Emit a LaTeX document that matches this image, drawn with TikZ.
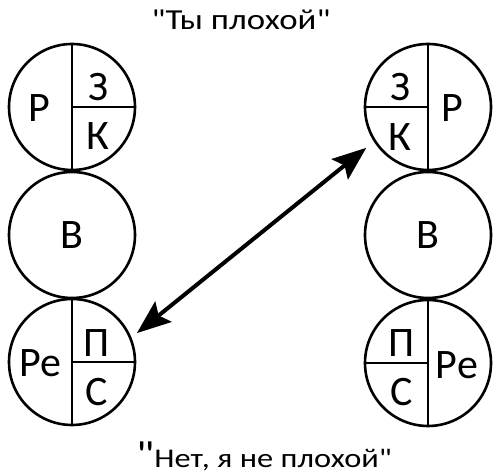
\documentclass[tikz,border=0pt]{standalone}
\usepackage{fontspec}
\setmainfont{Carlito}
\newfontfamily\phrasefont{Carlito}[FakeStretch=1.2]
\usetikzlibrary{arrows.meta,calc}

\begin{document}
\begin{tikzpicture}[x=0.5pt,y=-0.5pt,
ring/.style={circle,draw,line width=1.3pt,inner sep=0pt,minimum size=63pt},
part/.style={line width=1.3pt},
letter/.style={inner sep=0pt,font=\fontsize{21}{25}\selectfont},
phrase/.style={inner sep=0pt,anchor=base,font=\phrasefont\fontsize{14.5}{17}\selectfont},
>={Stealth[length=17pt,width=13pt,inset=3pt]}
]
\useasboundingbox (0,0) rectangle (494,475);
% left person
\node[ring] (lt) at (72,107) {};
\node[ring] (lm) at (72,235) {};
\node[ring] (lb) at (72,362) {};
\draw[part] (lt.north) -- (lt.south) (lt.center) -- (lt.east);
\draw[part] (lb.north) -- (lb.south) (lb.center) -- (lb.east);
\node[letter] (lr) at (39,108) {Р};
\node[letter] (lz) at (98,87) {З};
\node[letter] (lk) at (98,136) {К};
\node[letter] (lv) at (72,235) {В};
\node[letter] (lre) at (40,363) {Ре};
\node[letter] (lp) at (97,343) {П};
\node[letter] (ls) at (97,392) {С};
% right person
\node[ring] (rt) at (428,107) {};
\node[ring] (rm) at (428,235) {};
\node[ring] (rb) at (428,363) {};
\draw[part] (rt.north) -- (rt.south) (rt.center) -- (rt.west);
\draw[part] (rb.north) -- (rb.south) (rb.center) -- (rb.west);
\node[letter] (rz) at (400,87) {З};
\node[letter] (rk) at (400,137) {К};
\node[letter] (rr) at (452,108) {Р};
\node[letter] (rv) at (428,235) {В};
\node[letter] (rp) at (402,343) {П};
\node[letter] (rs) at (402,392) {С};
\node[letter] (rre) at (457,365) {Ре};
% phrases
\node[phrase] (top) at (241,30) {"Ты плохой"};
\node[phrase,font=\phrasefont\fontsize{13.5}{16}\selectfont] (bottom) at (264,468)
  {{\fontsize{19}{19}\selectfont"}Нет, я не плохой"};
% arrow
\coordinate (ltip) at ($(lb)+(24:35.5pt)$);
\coordinate (rtip) at ($(rt)+(213.5:37pt)$);
\draw[line width=2pt,<->] (ltip) -- (rtip);
\end{tikzpicture}
\end{document}
